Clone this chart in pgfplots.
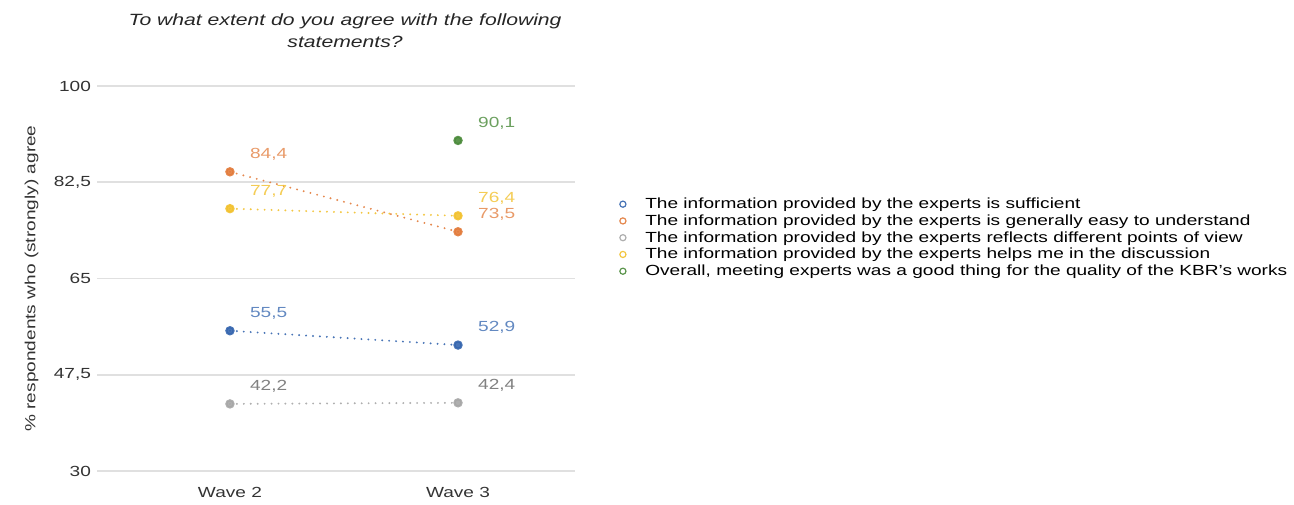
\documentclass[border=0pt]{standalone}
\usepackage{fontspec}
\setmainfont{Liberation Sans}[FakeStretch=1.3]
\usepackage{pgfplots}
\pgfplotsset{compat=1.18}

\definecolor{cBlue}{HTML}{3465AE}
\definecolor{cOrange}{HTML}{E27B3B}
\definecolor{cGray}{HTML}{A6A6A6}
\definecolor{cYellow}{HTML}{F2C12E}
\definecolor{cGreen}{HTML}{4A8A3A}

\begin{document}
\begin{tikzpicture}
\begin{axis}[
    scale only axis,
    width=358.5pt, height=288.75pt,
    xmin=1.417, xmax=3.513,
    ymin=30, ymax=100,
    xtick={2,3}, xticklabels={Wave 2, Wave 3},
    ytick={30,47.5,65,82.5,100},
    /pgf/number format/.cd, use comma, fixed, assume math mode=true,
    /pgfplots/.cd,
    ymajorgrids,
    major grid style={color=black!12, line width=1.3pt},
    axis line style={draw=none},
    major tick length=0pt,
    tick label style={font=\fontsize{11}{13}\selectfont, text=black!80},
    xticklabel style={yshift=-8.5pt},
    yticklabel style={xshift=-1pt},
    every axis y label/.style={at={(rel axis cs:0,0.5)}, xshift=-49pt, rotate=90, anchor=center, font=\fontsize{11}{13}\selectfont, text=black!80},
    ylabel={\% respondents who (strongly) agree},
    title={To what extent do you agree with the following\\statements?},
    title style={at={(rel axis cs:0.519,1)}, anchor=south, yshift=22.5pt, inner sep=0pt, align=center, font=\itshape\fontsize{12.2}{16.5}\selectfont, text=black!85},
    point meta=explicit symbolic,
    nodes near coords,
    nodes near coords style={anchor=west, xshift=11pt, yshift=13pt, font=\fontsize{11}{13}\selectfont},
    every axis plot/.append style={line width=1.6pt, dash pattern=on 0pt off 5.2pt, line cap=round, mark=*, mark size=2.7pt, mark options={solid}},
    legend style={at={(rel axis cs:1.092,0.606)}, anchor=west, draw=none, fill=none,
        font=\fontsize{11}{12}\selectfont, row sep=-0.9pt, inner sep=0pt,
        cells={anchor=west}},
    legend image code/.code={\draw[#1, solid, fill=white, line width=0.9pt] (0pt,0pt) circle (2.3pt); \path (14pt,0pt);},
]
\addplot[color=cBlue, opacity=0.9, nodes near coords style={text=cBlue!85}] table[meta=lab] {
x y lab
2 55.5 55,5
3 52.9 52,9
};
\addlegendentry{The information provided by the experts is sufficient}
\addplot[color=cOrange, opacity=0.9, nodes near coords style={text=cOrange!85}] table[meta=lab] {
x y lab
2 84.4 84,4
3 73.5 73,5
};
\addlegendentry{The information provided by the experts is generally easy to understand}
\addplot[color=cGray, opacity=0.9, nodes near coords style={text=black!55}] table[meta=lab] {
x y lab
2 42.2 42,2
3 42.4 42,4
};
\addlegendentry{The information provided by the experts reflects different points of view}
\addplot[color=cYellow, opacity=0.9, nodes near coords style={text=cYellow!90}] table[meta=lab] {
x y lab
2 77.7 77,7
3 76.4 76,4
};
\addlegendentry{The information provided by the experts helps me in the discussion}
\addplot[color=cGreen, opacity=0.9, nodes near coords style={text=cGreen!90}] table[meta=lab] {
x y lab
3 90.1 90,1
};
\addlegendentry{Overall, meeting experts was a good thing for the quality of the KBR's works}
\coordinate (bl) at (rel axis cs:0,0);
\end{axis}
\pgfresetboundingbox
\path[use as bounding box] ([shift={(-72.75pt,-24.75pt)}]bl) rectangle ([shift={(897.75pt,353.25pt)}]bl);
\end{tikzpicture}
\end{document}
